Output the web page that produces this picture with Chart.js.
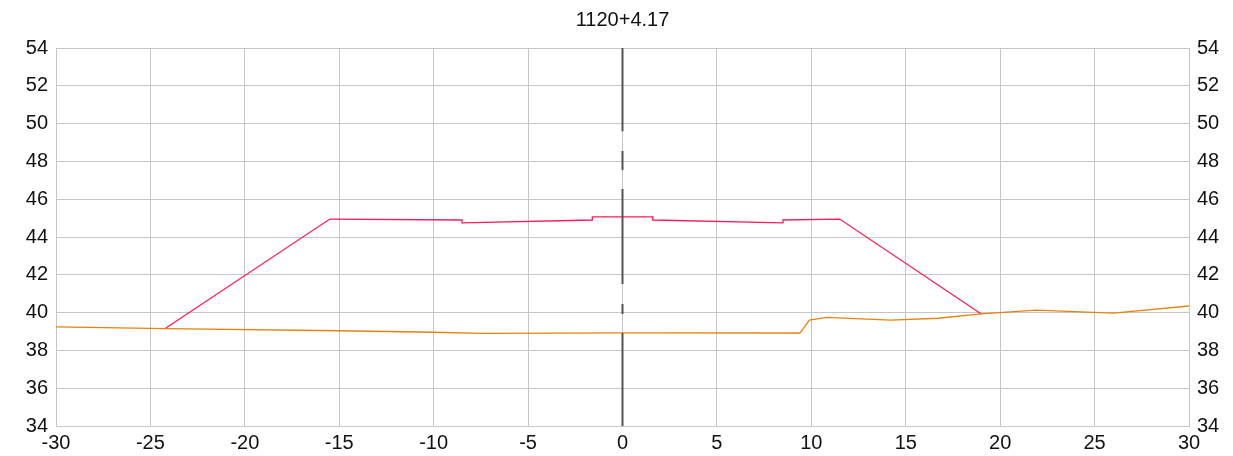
<!DOCTYPE html>
<html>
<head>
<meta charset="utf-8">
<script src="https://cdn.jsdelivr.net/npm/chart.js@4.4.1/dist/chart.umd.min.js"></script>
<style>
    html, body { margin: 0; padding: 0; background: #ffffff; }
    #wrap { width: 1233px; height: 456px; position: relative; }
</style>
</head>
<body>
<div id="wrap"><canvas id="sectionChart"></canvas></div>
<script>
// Cross section 1120+4.17

var chartTitle = '1120+4.17';

// design (template) line
var designOffsets = [-24.2, -15.5, -8.5, -8.5, -1.6, -1.6, 1.6, 1.6, 8.5, 8.5, 11.5, 19.0];
var designElev = [39.17, 44.95, 44.9, 44.75, 44.9, 45.07, 45.07, 44.9, 44.75, 44.9, 44.95, 39.93];

// existing ground line
var groundOffsets = [-30, -24.2, -15, -10, -7.4, 0, 9.4, 9.9, 10.8, 14.2, 16.7, 19.0, 21.9, 26.0, 30];
var groundElev = [39.24, 39.15, 39.04, 38.96, 38.9, 38.93, 38.92, 39.6, 39.75, 39.6, 39.7, 39.93, 40.13, 39.97, 40.35];

// centre line pieces (null = break)
var centreElev = [54, 49.6, null, 48.55, 47.55, null, 46.54, 41.51, null, 40.46, 39.93, null, 38.92, 34];

var xTicks = [-30, -25, -20, -15, -10, -5, 0, 5, 10, 15, 20, 25, 30];
var yTicks = [34, 36, 38, 40, 42, 44, 46, 48, 50, 52, 54];

function toPoints(xs, ys) {
    return xs.map(function (x, i) { return { x: x, y: ys[i] }; });
}

var gridColor = '#c6c6c6';
var labelFont = { family: 'Liberation Sans, Arial, sans-serif', size: 20 };

var data = {
    datasets: [
        {
            label: 'Centre',
            data: centreElev.map(function (y) { return { x: 0, y: y }; }),
            borderColor: '#555555',
            borderWidth: 2,
            spanGaps: false
        },
        {
            label: 'Ground',
            data: toPoints(groundOffsets, groundElev),
            borderColor: '#e8820e',
            borderWidth: 1.3
        },
        {
            label: 'Design',
            data: toPoints(designOffsets, designElev),
            borderColor: '#ff1a55',
            borderWidth: 1.3
        }
    ]
};

var options = {
    responsive: true,
    maintainAspectRatio: false,
    animation: false,
    showLine: true,
    elements: { point: { radius: 0, hoverRadius: 0 }, line: { tension: 0 } },
    layout: { padding: { left: 12, right: 0, top: 0, bottom: 0 } },
    scales: {
        x: {
            type: 'linear',
            min: xTicks[0],
            max: xTicks[xTicks.length - 1],
            afterBuildTicks: function (axis) { axis.ticks = xTicks.map(function (v) { return { value: v }; }); },
            afterFit: function (axis) { axis.height = 30; },
            grid: { color: gridColor, drawTicks: false },
            border: { color: gridColor },
            ticks: { color: '#111', font: labelFont, padding: 5, maxRotation: 0 }
        },
        y: {
            type: 'linear',
            position: 'left',
            min: yTicks[0],
            max: yTicks[yTicks.length - 1],
            afterBuildTicks: function (axis) { axis.ticks = yTicks.map(function (v) { return { value: v }; }); },
            afterFit: function (axis) { axis.width = 44; },
            grid: { color: gridColor, drawTicks: false },
            border: { color: gridColor },
            ticks: { color: '#111', font: labelFont, padding: 8 }
        },
        y2: {
            type: 'linear',
            position: 'right',
            min: yTicks[0],
            max: yTicks[yTicks.length - 1],
            afterBuildTicks: function (axis) { axis.ticks = yTicks.map(function (v) { return { value: v }; }); },
            afterFit: function (axis) { axis.width = 44; },
            grid: { display: false, drawTicks: false },
            border: { color: gridColor },
            ticks: { color: '#111', font: labelFont, padding: 8 }
        }
    },
    plugins: {
        legend: { display: false },
        tooltip: { enabled: false },
        title: {
            display: true,
            text: chartTitle,
            color: '#111',
            font: { family: 'Liberation Sans, Arial, sans-serif', size: 20, weight: 'normal', lineHeight: 1.2 },
            padding: { top: 8, bottom: 16 }
        }
    }
};

var sectionChart = new Chart(document.getElementById('sectionChart'), {
    type: 'scatter',
    data: data,
    options: options
});
</script>
</body>
</html>
